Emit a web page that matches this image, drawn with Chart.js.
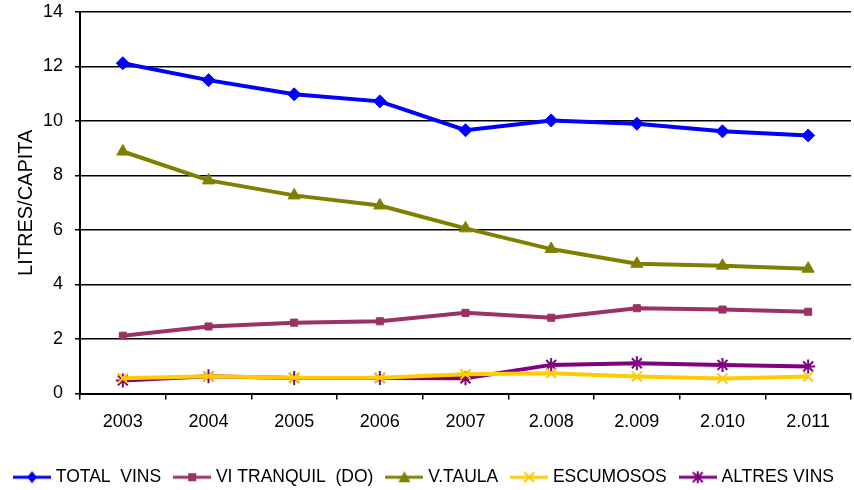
<!DOCTYPE html>
<html>
<head>
<meta charset="utf-8">
<script src="https://cdn.jsdelivr.net/npm/chart.js@4/dist/chart.umd.min.js"></script>
<style>
  html, body { margin: 0; padding: 0; background: #fff; }
  #wrap { width: 854px; height: 490px; position: relative; }
</style>
</head>
<body>
<div id="wrap"><canvas id="wine-chart"></canvas></div>
<script>
const years = ['2003', '2004', '2005', '2006', '2007', '2.008', '2.009', '2.010', '2.011'];
const yTicks = [0, 2, 4, 6, 8, 10, 12, 14];

const totalVins = [12.12, 11.5, 10.98, 10.72, 9.66, 10.02, 9.9, 9.62, 9.47];
const viTranquil = [2.12, 2.46, 2.6, 2.65, 2.96, 2.78, 3.13, 3.08, 3.0];
const vTaula = [8.88, 7.82, 7.27, 6.9, 6.06, 5.3, 4.76, 4.69, 4.58];
const escumosos = [0.56, 0.63, 0.58, 0.58, 0.71, 0.74, 0.62, 0.55, 0.62];
const altresVins = [0.48, 0.63, 0.57, 0.57, 0.56, 1.05, 1.11, 1.05, 0.99];

const FONT = 'Liberation Sans, Arial, sans-serif';

// legend swatch: short line with the marker in the middle
function swatch(color, shape) {
    const c = document.createElement('canvas');
    c.width = 38; c.height = 16;
    const g = c.getContext('2d');
    g.strokeStyle = color; g.fillStyle = color; g.lineWidth = 3;
    g.beginPath(); g.moveTo(0, 8); g.lineTo(38, 8); g.stroke();
    g.beginPath();
    if (shape === 'diamond') {
        g.moveTo(19, 2); g.lineTo(24, 8); g.lineTo(19, 14); g.lineTo(14, 8); g.closePath(); g.fill();
    } else if (shape === 'square') {
        g.fillRect(15, 4, 8, 8);
    } else if (shape === 'triangle') {
        g.moveTo(19, 2); g.lineTo(25, 13); g.lineTo(13, 13); g.closePath(); g.fill();
    } else if (shape === 'cross') {
        g.lineWidth = 2;
        g.moveTo(14, 3); g.lineTo(24, 13); g.moveTo(24, 3); g.lineTo(14, 13); g.stroke();
    } else {
        g.lineWidth = 2;
        g.moveTo(14, 3); g.lineTo(24, 13); g.moveTo(24, 3); g.lineTo(14, 13);
        g.moveTo(19, 2); g.lineTo(19, 14); g.stroke();
    }
    return c;
}

function series(label, data, color, style, radius, shape) {
    return {
        label: label,
        data: data,
        borderColor: color,
        backgroundColor: color,
        borderWidth: 4,
        pointStyle: style,
        pointRadius: radius,
        pointBorderWidth: style === 'crossRot' || style === 'star' ? 2 : 1,
        tension: 0,
        legendSwatch: swatch(color, shape)
    };
}

const datasets = [
    series('TOTAL  VINS', totalVins, '#0000ff', 'rectRot', 6.5, 'diamond'),
    series('VI TRANQUIL  (DO)', viTranquil, '#993366', 'rect', 5, 'square'),
    series('V.TAULA', vTaula, '#808000', 'triangle', 7, 'triangle'),
    series('ESCUMOSOS', escumosos, '#ffcc00', 'crossRot', 7, 'cross'),
    series('ALTRES VINS', altresVins, '#800080', 'star', 7, 'star')
];

new Chart(document.getElementById('wine-chart'), {
    type: 'line',
    data: { labels: years, datasets: datasets },
    options: {
        responsive: true,
        maintainAspectRatio: false,
        animation: false,
        layout: { autoPadding: false, padding: { left: 0, right: 3, top: 12, bottom: -6 } },
        plugins: {
            tooltip: { enabled: false },
            legend: {
                position: 'bottom',
                labels: {
                    usePointStyle: true,
                    pointStyleWidth: 30,
                    padding: 16,
                    color: '#000',
                    font: { family: FONT, size: 17.5 },
                    generateLabels: function(chart) {
                        const items = Chart.defaults.plugins.legend.labels.generateLabels(chart);
                        items.forEach(it => { it.pointStyle = chart.data.datasets[it.datasetIndex].legendSwatch; });
                        return items;
                    }
                }
            }
        },
        scales: {
            x: {
                offset: true,
                grid: { display: true, drawOnChartArea: false, offset: true, color: '#000', tickLength: 6, lineWidth: 1.5 },
                border: { color: '#000', width: 2 },
                ticks: { color: '#000', font: { family: FONT, size: 18 }, padding: 12, maxRotation: 0 },
                afterFit: s => { s.height = 59; s.paddingLeft = 0; s.paddingRight = 0; }
            },
            y: {
                min: 0, max: 14,
                afterBuildTicks: s => { s.ticks = yTicks.map(v => ({ value: v })); },
                grid: { color: '#000', lineWidth: 1.5, tickLength: 5 },
                border: { color: '#000', width: 2 },
                ticks: { color: '#000', font: { family: FONT, size: 18 }, padding: 12 },
                title: { display: true, text: 'LITRES/CAPITA', color: '#000', font: { family: FONT, size: 20 }, padding: { top: 14, bottom: 0 } },
                afterFit: s => { s.width = 80; s.paddingTop = 0; s.paddingBottom = 0; }
            }
        }
    }
});
</script>
</body>
</html>
